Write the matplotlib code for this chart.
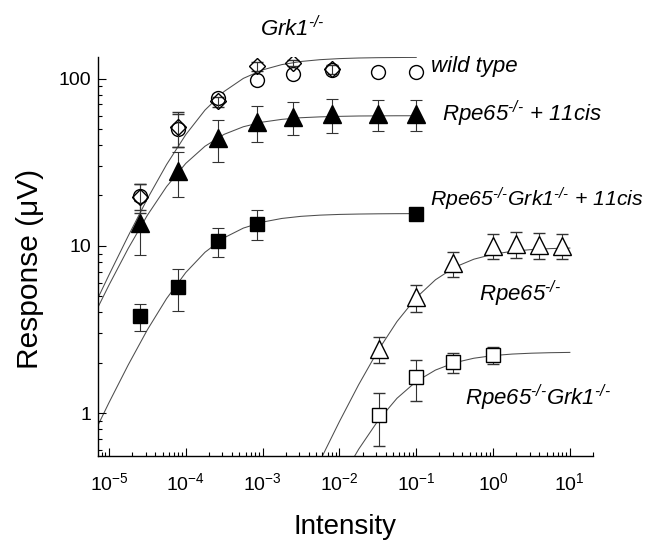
import matplotlib
matplotlib.use('Agg')
import matplotlib.pyplot as plt
import matplotlib.ticker as mticker

plt.rcParams['font.family'] = ['Liberation Sans', 'DejaVu Sans']
plt.rcParams['mathtext.fontset'] = 'custom'
plt.rcParams['mathtext.rm'] = 'Liberation Sans:italic'
plt.rcParams['mathtext.it'] = 'Liberation Sans:italic'

# flash intensities
x_early = [2.5e-5, 8e-5, 2.6e-4, 8.5e-4, 2.5e-3, 8e-3, 0.032, 0.1]
x_late = [0.033, 0.1, 0.3, 1, 2, 4, 8]

# wild type (open circles)
wt_y = [19.8, 50, 77, 98, 106, 112, 109, 109]
wt_err = [3.5, 11, 4, 4, 4, 4, 4, 4]
# Grk1-/- (open diamonds)
grk_x = x_early[:6]
grk_y = [19.5, 51, 73, 118, 124, 114]
grk_err = [3.8, 12, 5, 7, 5, 7]
# Rpe65-/- + 11cis (filled triangles)
cis_y = [13.7, 28, 44, 55, 59, 61.5, 61.5, 61.5]
cis_err = [4.9, 8.5, 12.5, 13.5, 13, 14, 13, 13]
# Rpe65-/-Grk1-/- + 11cis (filled squares)
dcis_x = [2.5e-5, 8e-5, 2.6e-4, 8.5e-4, 0.1]
dcis_y = [3.8, 5.7, 10.7, 13.6, 15.5]
dcis_err = [0.7, 1.6, 2.1, 2.7, 1.0]
# Rpe65-/- (open triangles)
rpe_y = [2.42, 4.95, 7.9, 10.0, 10.3, 10.1, 10.0]
rpe_err = [0.42, 0.9, 1.35, 1.7, 1.8, 1.8, 1.7]
# Rpe65-/-Grk1-/- (open squares)
dko_x = x_late[:4]
dko_y = [0.98, 1.64, 2.02, 2.22]
dko_err = [0.34, 0.45, 0.27, 0.25]

# fitted curves
fit_x_low = [5.62e-6, 1e-5, 1.78e-5, 3.16e-5, 5.62e-5, 1e-4, 1.78e-4, 3.16e-4, 5.62e-4,
             1e-3, 1.78e-3, 3.16e-3, 5.62e-3, 1e-2, 1.78e-2, 3.16e-2, 5.62e-2, 0.1]
wt_fit = [3.85, 6.70, 11.46, 19.12, 30.6, 46.2, 64.8, 83.7, 100.2,
          112.6, 121.1, 126.4, 129.6, 131.5, 132.6, 133.2, 133.5, 133.7]
cis_fit = [3.42, 5.83, 9.65, 15.23, 22.6, 31.1, 39.4, 46.4, 51.5,
           54.9, 57.0, 58.3, 59.0, 59.4, 59.7, 59.8, 59.9, 59.9]
dcis_fit = [0.672, 1.156, 1.943, 3.15, 4.84, 6.93, 9.16, 11.18, 12.77,
            13.87, 14.58, 15.01, 15.26, 15.41, 15.49, 15.54, 15.57, 15.58]
rpe_fit_x = [3.16e-3, 5.62e-3, 1e-2, 1.78e-2, 3.16e-2, 5.62e-2, 0.1, 0.178, 0.316,
             0.562, 1, 1.78, 3.16, 5.62, 10]
rpe_fit = [0.30, 0.522, 0.891, 1.48, 2.355, 3.53, 4.9, 6.27, 7.45,
           8.32, 8.91, 9.28, 9.50, 9.63, 9.70]
dko_fit_x = [1e-2, 1.78e-2, 3.16e-2, 5.62e-2, 0.1, 0.178, 0.316, 0.562, 1,
             1.78, 3.16, 5.62, 10]
dko_fit = [0.387, 0.609, 0.898, 1.228, 1.547, 1.810, 2.003, 2.130, 2.209,
           2.256, 2.283, 2.299, 2.308]

fig = plt.figure(figsize=(6.47, 5.40), dpi=100)
ax = fig.add_axes([0.1515, 0.1556, 0.765, 0.7394])

for fx, fy in [(fit_x_low, wt_fit), (fit_x_low, cis_fit), (fit_x_low, dcis_fit),
               (rpe_fit_x, rpe_fit), (dko_fit_x, dko_fit)]:
    ax.plot(fx, fy, color='0.3', lw=0.75, zorder=1)

eb = dict(ecolor='0.2', elinewidth=0.8, capsize=4.5, capthick=0.8, ls='none')
ax.errorbar(x_early, wt_y, yerr=wt_err, marker='o', ms=10, mfc='white', mec='black',
            mew=1.0, zorder=3, **eb)
ax.errorbar(grk_x, grk_y, yerr=grk_err, marker='D', ms=8.5, mfc='none', mec='black',
            mew=1.0, zorder=4, **eb)
ax.errorbar(x_early, cis_y, yerr=cis_err, marker='^', ms=12.5, mfc='black', mec='black',
            zorder=3, **eb)
ax.errorbar(dcis_x, dcis_y, yerr=dcis_err, marker='s', ms=9.5, mfc='black', mec='black',
            zorder=3, **eb)
ax.errorbar(x_late, rpe_y, yerr=rpe_err, marker='^', ms=12.5, mfc='white', mec='black',
            mew=1.0, zorder=3, **eb)
ax.errorbar(dko_x, dko_y, yerr=dko_err, marker='s', ms=9.5, mfc='white', mec='black',
            mew=1.0, zorder=3, **eb)

ax.set_xscale('log')
ax.set_yscale('log')
ax.set_xlim(7.2e-6, 20)
ax.set_ylim(0.555, 135)

ax.spines['top'].set_visible(False)
ax.spines['right'].set_visible(False)
for s in ['left', 'bottom']:
    ax.spines[s].set_linewidth(1.0)

ax.set_yticks([1, 10, 100])
ax.yaxis.set_major_formatter(mticker.FuncFormatter(lambda v, p: f'{v:g}'))
ax.yaxis.set_minor_locator(mticker.LogLocator(base=10, subs=range(2, 10), numticks=20))
ax.yaxis.set_minor_formatter(mticker.NullFormatter())
ax.set_xticks([1e-5, 1e-4, 1e-3, 1e-2, 1e-1, 1, 10])
ax.xaxis.set_minor_locator(mticker.LogLocator(base=10, subs=range(2, 10), numticks=20))
ax.xaxis.set_minor_formatter(mticker.NullFormatter())

ax.tick_params(which='major', direction='in', length=5.5, width=0.8, labelsize=14)
ax.tick_params(which='minor', direction='in', length=3, width=0.8)
ax.tick_params(axis='x', which='major', pad=12)
ax.tick_params(axis='y', which='major', pad=5)

ax.set_xlabel('Intensity', fontsize=20, labelpad=14)
ax.set_ylabel('Response (\u03bcV)', fontsize=21.5)
ax.yaxis.set_label_coords(-0.11, 0.468)

tk = dict(fontsize=16, style='italic', va='baseline')
sup = r'$^{\text{-/-}}$'
ax.text(2.46e-3, 180, 'Grk1' + sup, ha='center', **tk)
ax.text(0.157, 109.7, 'wild type', ha='left', **tk)
ax.text(0.218, 55.4, 'Rpe65' + sup + ' + 11cis', ha='left', **tk)
ax.text(0.15, 17.2, 'Rpe65' + sup + 'Grk1' + sup + ' + 11cis', ha='left',
        fontsize=15.3, style='italic', va='baseline')
ax.text(0.658, 4.64, 'Rpe65' + sup, ha='left', **tk)
ax.text(0.432, 1.11, 'Rpe65' + sup + 'Grk1' + sup, ha='left', **tk)

fig.savefig('out.png', dpi=100)
